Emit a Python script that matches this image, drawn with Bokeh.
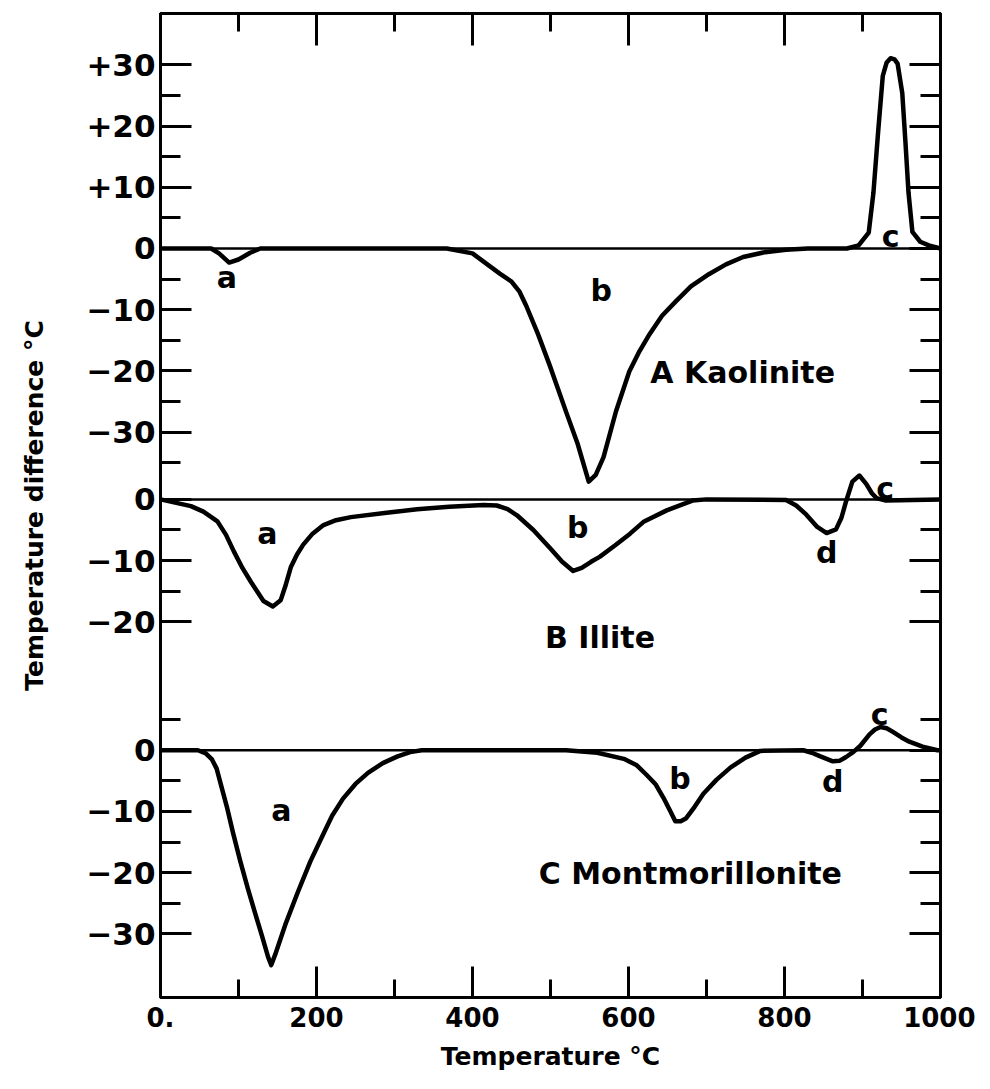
from bokeh.plotting import figure
from bokeh.models import Range1d, LinearAxis, FixedTicker, CustomJSTickFormatter, ColumnDataSource
from bokeh.core.properties import value
from bokeh.embed import file_html
from bokeh.resources import INLINE

# ---------------- data ----------------
# A Kaolinite: temperature (°C) and temperature difference (°C)
kao_t = [0, 40, 65, 75, 88, 100, 115, 128, 200, 300, 367, 400, 435, 450, 460, 469, 484, 499, 520, 535,
         549, 558, 568, 584, 601, 614, 627, 643, 661, 680, 703, 725, 747, 775, 802, 830, 880,
         895, 908, 914, 920, 926, 931, 936, 941, 945, 951, 955, 959, 964, 974, 985, 1000]
kao_v = [0, 0, 0, -0.8, -2.3, -1.8, -0.7, 0, 0, 0, 0, -0.8, -4.1, -5.4, -7.0, -9.4, -14.0, -19.1, -26.7, -32.0,
         -38.1, -37.0, -34.1, -26.6, -20.1, -16.8, -14.0, -11.0, -8.6, -6.2, -4.2, -2.6, -1.4, -0.6, -0.2, 0, 0,
         0.5, 2.6, 9.1, 19.0, 28.2, 30.4, 31.1, 30.9, 30.2, 25.4, 17.5, 9.1, 2.7, 1.1, 0.5, 0]

# B Illite
ill_t = [0, 39, 55, 73, 84, 94, 105, 116, 132, 144, 154, 160, 167, 175, 183, 195, 209, 225, 244, 290,
         329, 370, 414, 431, 445, 457, 478, 499, 515, 529, 540, 552, 563, 583, 602, 620, 649, 682, 700,
         802, 815, 828, 842, 854, 866, 873, 879, 887, 896, 905, 912, 918, 930, 1000]
ill_v = [0, -1.1, -2.0, -3.6, -5.8, -8.5, -11.2, -13.5, -16.6, -17.5, -16.5, -14.2, -11.1, -9.0, -7.4, -5.6,
         -4.2, -3.4, -2.9, -2.2, -1.6, -1.2, -0.9, -1.0, -1.6, -2.6, -5.0, -7.9, -10.2, -11.7, -11.2, -10.2,
         -9.4, -7.5, -5.6, -3.6, -1.8, -0.2, 0, -0.1, -1.0, -2.5, -4.5, -5.5, -4.9, -3.0, -0.3, 2.9, 3.9,
         2.5, 1.0, 0.2, -0.2, 0]

# C Montmorillonite
mon_t = [0, 48, 58, 66, 72, 77, 85, 93, 102, 112, 121, 130, 138, 142, 147, 160, 176, 192, 208, 220, 234,
         250, 266, 285, 304, 320, 335, 520, 560, 594, 610, 623, 635, 645, 653, 660, 667, 674, 685, 696,
         713, 731, 750, 769, 824, 835, 846, 862, 871, 879, 888, 897, 909, 916, 923, 931, 939, 950, 960,
         977, 996, 1000]
mon_v = [0, 0, -0.5, -1.5, -3.0, -5.4, -9.2, -13.5, -18.0, -22.6, -26.5, -30.3, -33.8, -35.1, -33.4, -28.5,
         -23.2, -18.2, -13.9, -10.7, -7.9, -5.5, -3.7, -2.1, -1.0, -0.3, 0, 0, -0.4, -1.4, -2.4, -4.0, -5.6,
         -7.8, -9.8, -11.6, -11.6, -11.1, -9.2, -7.1, -4.8, -2.8, -1.2, -0.1, 0, -0.4, -1.0, -1.8, -1.7,
         -1.1, -0.3, 0.7, 2.6, 3.4, 3.8, 3.6, 3.0, 2.1, 1.4, 0.6, 0, 0]

# vertical offsets of the three stacked curves (layout)
row_offsets = {"A": 0, "B": -41, "C": -82}

# y tick labels (per stacked curve)
ytick_vals = [30, 20, 10, 0, -10, -20, -30, -41, -51, -61, -82, -92, -102, -112]
ytick_text = ["+30", "+20", "+10", "0", "\u221210", "\u221220", "\u221230",
              "0", "\u221210", "\u221220", "0", "\u221210", "\u221220", "\u221230"]
ytick_minor = [25, 15, 5, -5, -15, -25, -35, -46, -56, -77, -87, -97, -107]

# x ticks
xtick_vals = [0, 200, 400, 600, 800, 1000]
xtick_text = ["0.", "200", "400", "600", "800", "1000"]
xtick_minor = [100, 300, 500, 700, 900]

# annotations
ann_text = ["a", "b", "c", "a", "b", "d", "c", "a", "b", "d", "c"]
ann_row = ["A", "A", "A", "B", "B", "B", "B", "C", "C", "C", "C"]
ann_t = [85, 565, 936, 137, 535, 854, 929, 155, 666, 862, 922]
ann_v = [-4.8, -6.9, 1.9, -5.5, -4.6, -8.7, 1.8, -9.9, -4.6, -5.1, 5.9]

name_text = ["A Kaolinite", "B Illite", "C Montmorillonite"]
name_row = ["A", "B", "C"]
name_t = [628, 493, 485]
name_v = [-20.2, -22.5, -20.1]

FONT = "DejaVu Sans"

# ---------------- figure ----------------
p = figure(width=975, height=1082,
           x_range=Range1d(0, 1000), y_range=Range1d(-122.4, 38.4),
           output_backend="svg", toolbar_location=None,
           min_border_left=160, min_border_right=35, min_border_top=13, min_border_bottom=85)
p.grid.visible = False
p.outline_line_color = "black"
p.outline_line_width = 3
p.background_fill_color = "white"
p.border_fill_color = "white"


def style_axis(ax, major_len, minor_len):
    ax.axis_line_color = "black"
    ax.axis_line_width = 3
    ax.major_tick_line_color = "black"
    ax.major_tick_line_width = 3
    ax.minor_tick_line_color = "black"
    ax.minor_tick_line_width = 3
    ax.major_tick_in = major_len
    ax.major_tick_out = 0
    ax.minor_tick_in = minor_len
    ax.minor_tick_out = 0


# bottom axis
xa = p.xaxis[0]
xa.ticker = FixedTicker(ticks=xtick_vals, minor_ticks=xtick_minor)
xa.major_label_overrides = {v: t for v, t in zip(xtick_vals, xtick_text)}
style_axis(xa, 31, 18)
xa.major_label_text_font = FONT
xa.major_label_text_font_style = "bold"
xa.major_label_text_color = "black"
xa.major_label_text_font_size = "26px"
xa.major_label_standoff = 9
xa.axis_label = "Temperature \u00b0C"
xa.axis_label_text_font = FONT
xa.axis_label_text_font_style = "bold"
xa.axis_label_text_color = "black"
xa.axis_label_text_font_size = "25px"
xa.axis_label_standoff = 12

# left axis
ya = p.yaxis[0]
ya.ticker = FixedTicker(ticks=ytick_vals, minor_ticks=ytick_minor)
ya.major_label_overrides = {v: t for v, t in zip(ytick_vals, ytick_text)}
style_axis(ya, 31, 20)
ya.major_label_text_font = FONT
ya.major_label_text_font_style = "bold"
ya.major_label_text_color = "black"
ya.major_label_text_font_size = "31px"
ya.major_label_standoff = 5
ya.axis_label = "Temperature difference \u00b0C"
ya.axis_label_text_font = FONT
ya.axis_label_text_font_style = "bold"
ya.axis_label_text_color = "black"
ya.axis_label_text_font_size = "25px"
ya.axis_label_standoff = 34

blank = CustomJSTickFormatter(code="return ''")

# top axis (ticks only)
top = LinearAxis(ticker=FixedTicker(ticks=xtick_vals, minor_ticks=xtick_minor), formatter=blank)
style_axis(top, 32, 18)
top.major_label_standoff = 0
p.add_layout(top, "above")

# right axis (ticks only)
right = LinearAxis(ticker=FixedTicker(ticks=ytick_vals, minor_ticks=ytick_minor), formatter=blank)
style_axis(right, 31, 20)
right.major_label_standoff = 0
p.add_layout(right, "right")

# baselines and curves
for key, ts, vs in (("A", kao_t, kao_v), ("B", ill_t, ill_v), ("C", mon_t, mon_v)):
    off = row_offsets[key]
    p.line([ts[0], ts[-1]], [off, off], line_color="black", line_width=2.5)
    p.line(ts, [v + off for v in vs], line_color="black", line_width=4.5, line_join="round", line_cap="round")

# letter annotations
ann_src = ColumnDataSource(dict(x=ann_t, y=[v + row_offsets[r] for v, r in zip(ann_v, ann_row)], text=ann_text))
p.text(x="x", y="y", text="text", source=ann_src, text_font=value(FONT), text_font_style="bold",
       text_font_size="30px", text_align="center", text_baseline="middle", text_color="black")

name_src = ColumnDataSource(dict(x=name_t, y=[v + row_offsets[r] for v, r in zip(name_v, name_row)], text=name_text))
p.text(x="x", y="y", text="text", source=name_src, text_font=value(FONT), text_font_style="bold",
       text_font_size="30px", text_align="left", text_baseline="middle", text_color="black")

open("out.html", "w").write(file_html(p, INLINE))
